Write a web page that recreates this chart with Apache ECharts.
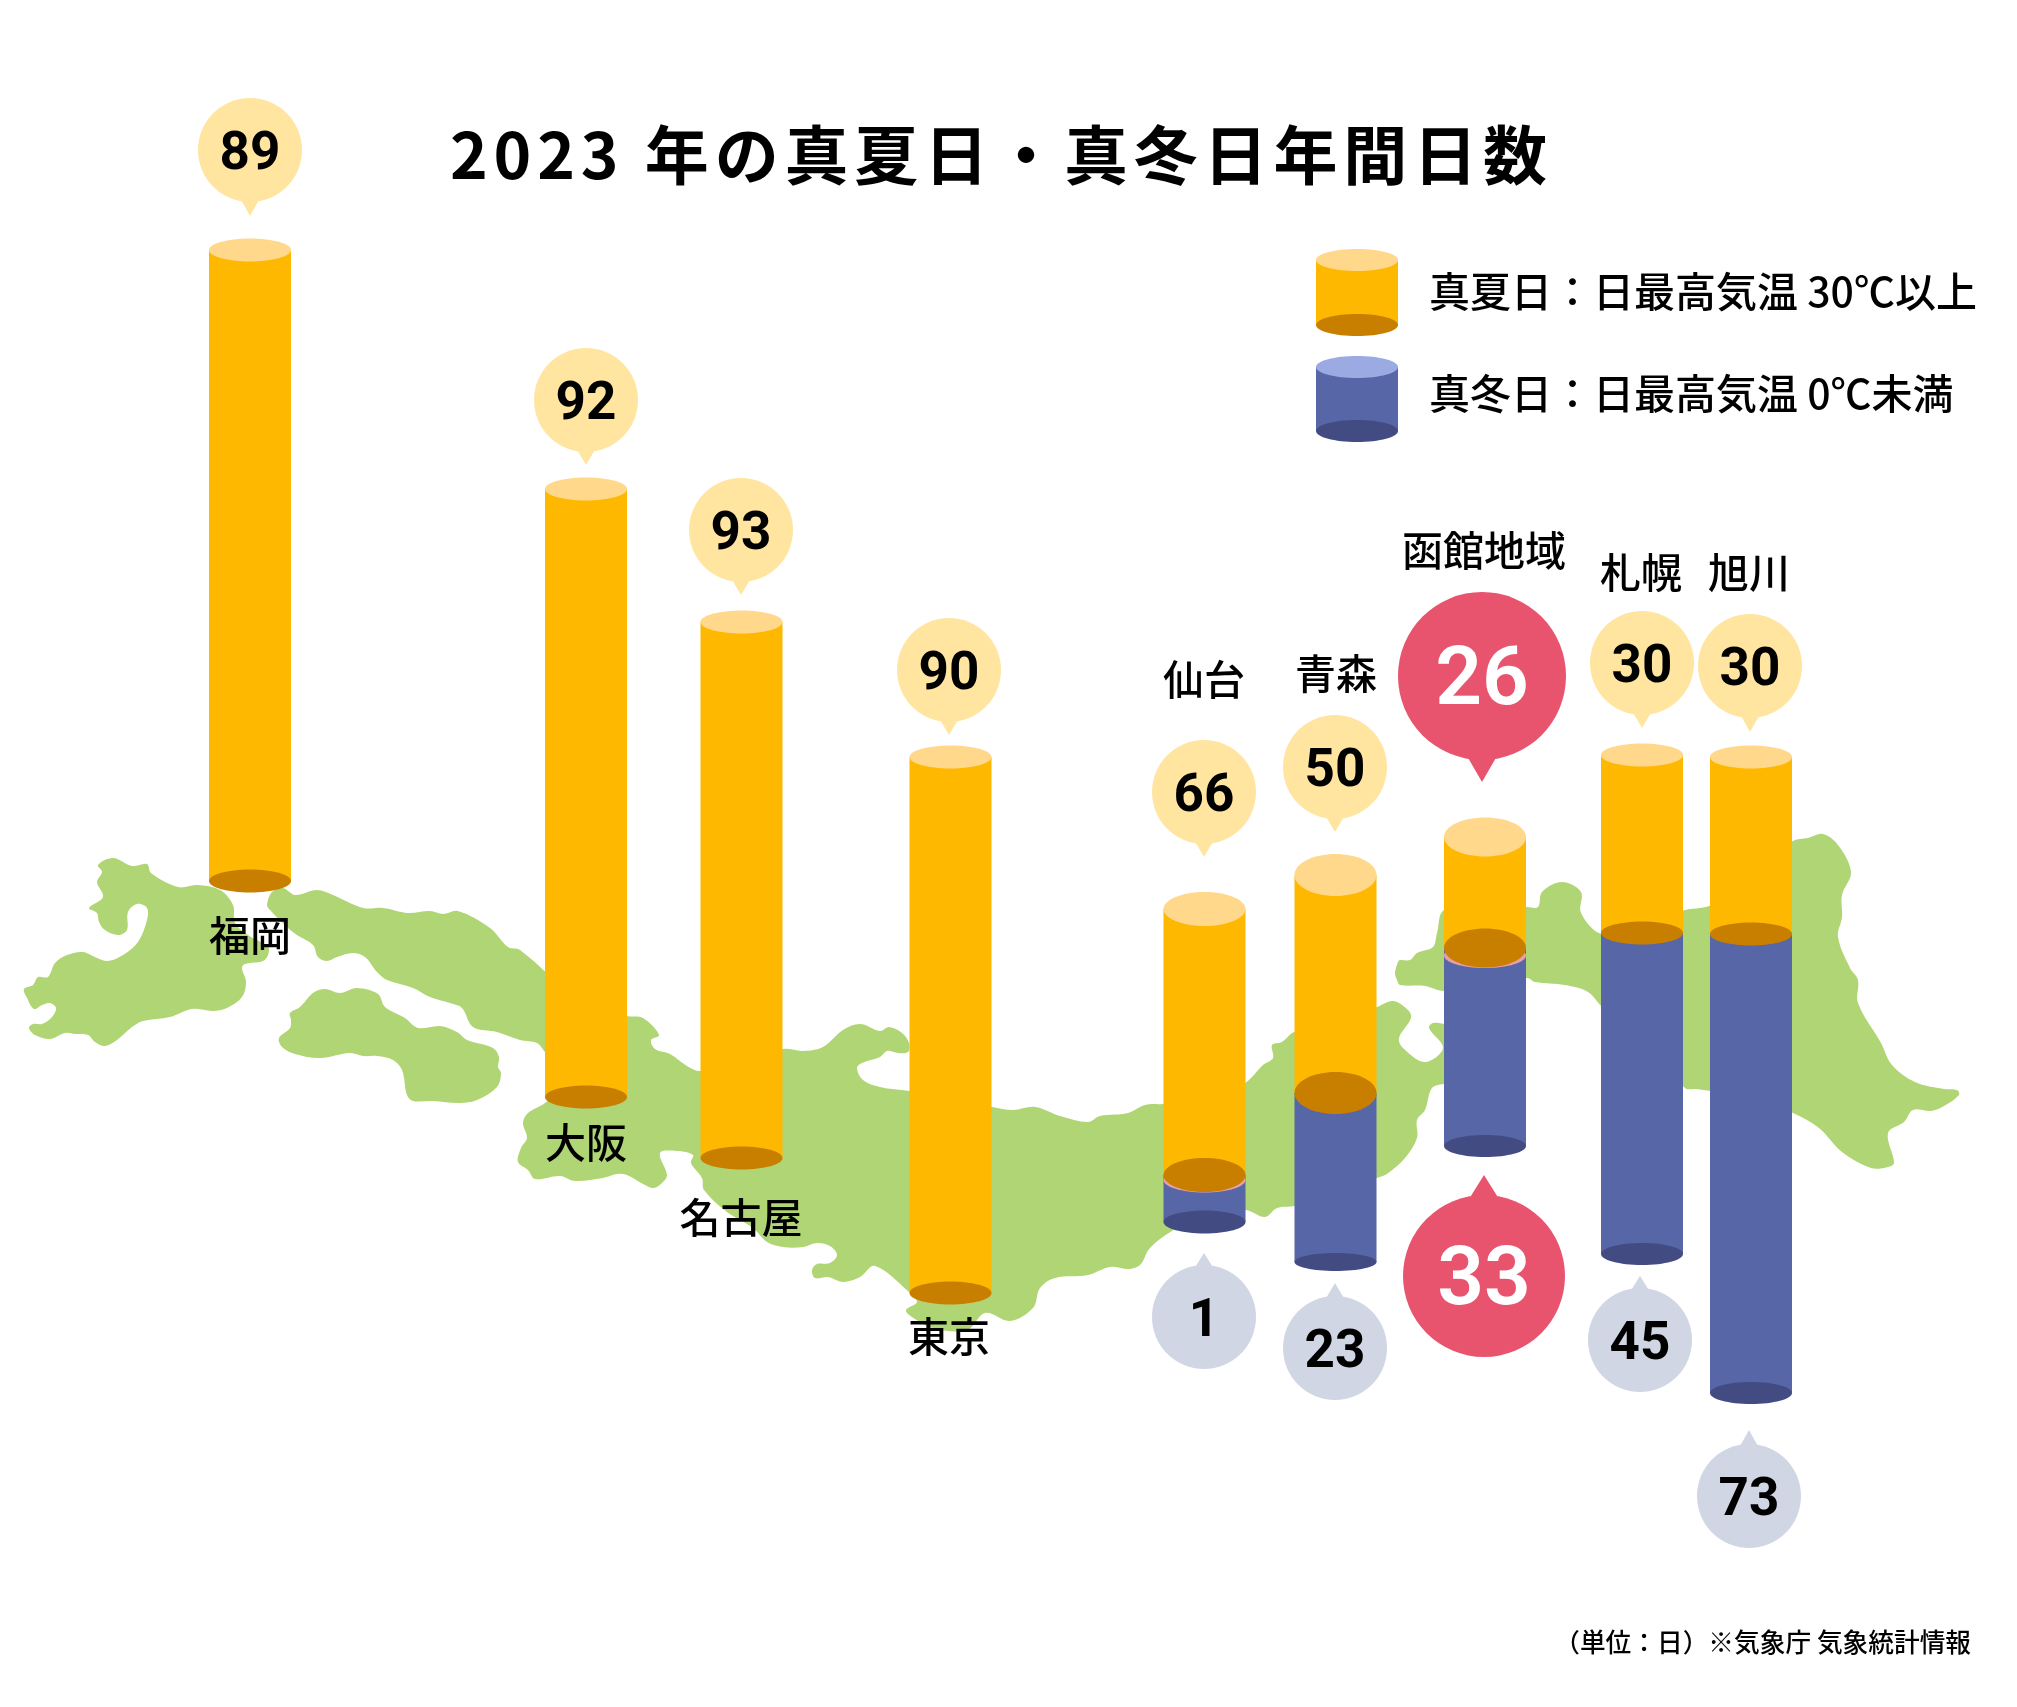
<!DOCTYPE html>
<html><head><meta charset="utf-8">
<style>html,body{margin:0;padding:0;background:#fff}#c{width:2017px;height:1707px}</style>
<script src="https://cdn.jsdelivr.net/npm/echarts@6/dist/echarts.min.js"></script>
</head><body><div id="c"></div>
<script>
const titleText = '2023 年の真夏日・真冬日年間日数';
const sourceText = '（単位：日）※気象庁 気象統計情報';
const legendLabels = ['真夏日：日最高気温 30℃以上', '真冬日：日最高気温 0℃未満'];
const cities = ['福岡','大阪','名古屋','東京','仙台','青森','函館地域','札幌','旭川'];
const summerDays = [89,92,93,90,66,50,26,30,30];
const winterDays = [0,0,0,0,1,23,33,45,73];
// bar ends (illustrative heights, in picture units)
const barTop    = [250,489,622,757,909,875,837,755,757];
const barSplit  = [881,1097,1158,1293,1175,1093,948,933,934];
const barBottom = [881,1097,1158,1293,1222,1262,1146,1254,1393];

const barX   = [250,586,741.5,950.5,1204.5,1335.5,1485,1642,1751];
const topRy  = [11.5,11.5,11.5,11.5,17,21,19.5,11.5,11.5];
const splitRy= [11.5,11.5,11.5,11.5,17,21,19.5,11.5,11.5];
const botRy  = [11.5,11.5,11.5,11.5,11.5,9,11,11,11];
const labelPos = [[250,935],[586,1142],[741,1217],[949,1336],[1204,679],[1336,673],[1484,550],[1641,572],[1749,572]];
const sumBubble = [[250,150,52,216],[586,400,52,465],[741,530,52,595],[949,670,52,735],[1204,792,52,857],[1335,767,52,832],[1482,676,84,782],[1642,663,52,728],[1750,666,52,732]];
const winBubble = [null,null,null,null,[1204,1317,52,1253],[1335,1348,52,1283],[1484,1276,81,1175],[1640,1340,52,1276],[1749,1496,52,1430]];
const highlightCity = 6;

const mapParts = [
 [[98,865],[113,858],[132,866],[147,864],[151,873],[178,887],[197,885],[220,890],[233,905],[235,923],[248,935],[268,947],[268,955],[263,961],[245,964],[242,968],[246,982],[242,997],[227,1008],[213,1011],[192,1009],[170,1017],[143,1021],[132,1027],[117,1040],[105,1046],[95,1042],[88,1035],[75,1034],[65,1033],[50,1039],[35,1035],[29,1028],[33,1024],[42,1024],[52,1017],[56,1008],[50,1003],[42,1005],[34,1009],[27,998],[24,989],[33,985],[38,977],[48,977],[55,963],[67,955],[83,952],[97,958],[108,961],[123,955],[138,942],[147,920],[147,908],[137,904],[128,912],[127,930],[118,935],[105,930],[99,922],[97,913],[89,908],[103,897],[97,882],[102,872]],
 [[290,1013],[300,1007],[313,993],[325,989],[340,993],[357,988],[378,994],[385,1007],[405,1018],[418,1028],[440,1026],[457,1032],[467,1040],[493,1048],[499,1057],[498,1067],[501,1073],[497,1087],[477,1100],[460,1103],[433,1101],[413,1101],[407,1095],[402,1070],[393,1060],[377,1056],[363,1056],[350,1053],[320,1058],[295,1054],[282,1047],[279,1038],[290,1028],[291,1020]],
 [[272,892],[283,888],[295,895],[317,890],[333,895],[363,908],[383,908],[408,913],[430,911],[443,914],[458,911],[490,928],[508,947],[520,950],[580,1000],[627,1016],[643,1018],[659,1035],[651,1040],[655,1049],[670,1054],[687,1066],[700,1071],[740,1060],[783,1049],[803,1051],[823,1047],[843,1030],[860,1024],[880,1031],[889,1027],[902,1033],[909,1043],[908,1052],[898,1053],[887,1051],[880,1057],[862,1063],[857,1068],[863,1080],[880,1087],[909,1091],[950,1098],[992,1107],[1013,1110],[1035,1107],[1060,1116],[1088,1122],[1100,1116],[1128,1113],[1145,1105],[1163,1104],[1205,1100],[1245,1083],[1263,1065],[1273,1058],[1272,1045],[1282,1042],[1294,1032],[1335,1020],[1377,1007],[1393,1001],[1408,1010],[1411,1018],[1399,1038],[1403,1048],[1425,1062],[1443,1048],[1429,1028],[1433,1023],[1444,1024],[1465,1030],[1465,1080],[1444,1084],[1432,1088],[1425,1110],[1417,1120],[1417,1138],[1405,1158],[1387,1174],[1377,1178],[1335,1195],[1294,1206],[1277,1208],[1265,1217],[1245,1210],[1205,1215],[1172,1231],[1150,1248],[1140,1265],[1128,1269],[1110,1267],[1088,1275],[1055,1278],[1040,1288],[1033,1308],[1010,1321],[985,1313],[967,1330],[933,1328],[912,1317],[906,1310],[917,1302],[909,1292],[875,1266],[860,1277],[843,1282],[828,1277],[815,1278],[812,1270],[817,1264],[830,1263],[837,1255],[830,1246],[817,1243],[803,1247],[783,1247],[767,1242],[753,1228],[727,1212],[704,1190],[702,1178],[691,1163],[693,1155],[677,1151],[660,1153],[667,1175],[663,1182],[654,1188],[643,1184],[627,1175],[617,1174],[603,1178],[575,1181],[560,1176],[535,1179],[528,1170],[518,1162],[521,1148],[527,1138],[523,1123],[528,1113],[545,1103],[570,1080],[545,1052],[537,1043],[520,1040],[497,1032],[473,1027],[462,1008],[450,1003],[430,997],[413,988],[387,980],[377,972],[365,957],[353,953],[337,957],[327,961],[318,957],[313,945],[297,935],[287,927],[270,910],[267,905]],
 [[1400,960],[1410,960],[1417,953],[1433,947],[1437,933],[1444,910],[1485,905],[1527,907],[1538,907],[1542,892],[1562,882],[1581,892],[1581,913],[1602,934],[1640,925],[1685,910],[1700,908],[1711,905],[1750,870],[1793,841],[1808,838],[1823,834],[1838,845],[1851,872],[1842,895],[1842,917],[1838,937],[1850,968],[1858,980],[1858,1003],[1881,1043],[1892,1065],[1915,1082],[1944,1089],[1957,1090],[1959,1095],[1944,1106],[1931,1111],[1913,1110],[1904,1122],[1888,1133],[1894,1163],[1888,1167],[1871,1168],[1842,1152],[1819,1128],[1793,1113],[1750,1095],[1711,1091],[1696,1089],[1685,1088],[1640,1040],[1602,1007],[1588,992],[1565,985],[1535,982],[1527,978],[1485,985],[1444,991],[1425,986],[1400,985],[1397,980],[1395,973],[1398,962]]
];

const C = {orange:'#FFB800',orangeTop:'#FFD88B',orangeBot:'#C87F00',blue:'#5766A6',blueBot:'#434C82',blueTop:'#9BAAE3',pink:'#E6A0A6',
  yellow:'#FFE5A0',gray:'#D0D6E3',red:'#E8546E',green:'#B0D574',ink:'#000'};
const F = '"Noto Sans CJK JP","Noto Sans",sans-serif';
const DF = 'Roboto,"Noto Sans",sans-serif';
const BW = 82;

// letter-spaced title: canvas text keeps its full string
const ft = CanvasRenderingContext2D.prototype.fillText;
CanvasRenderingContext2D.prototype.fillText = function(t,x,y,m){
  if(t===titleText){ this.letterSpacing='5.85px'; }
  m===undefined ? ft.call(this,t,x,y) : ft.call(this,t,x,y,m);
  if(t===titleText){ this.letterSpacing='0px'; }
};

function cyl(api,x,y0,y1,ry0,ry1,bodyCol,topCol,botCol){
  const a=api.coord([x-BW/2,y0]), b=api.coord([x+BW/2,y1]);
  const kids=[{type:'rect',shape:{x:a[0],y:a[1],width:b[0]-a[0],height:b[1]-a[1]},style:{fill:bodyCol}}];
  kids.push({type:'ellipse',shape:{cx:(a[0]+b[0])/2,cy:b[1],rx:BW/2,ry:ry1},style:{fill:botCol}});
  if(topCol) kids.push({type:'ellipse',shape:{cx:(a[0]+b[0])/2,cy:a[1],rx:BW/2,ry:ry0},style:{fill:topCol}});
  return {type:'group',children:kids};
}
function bubble(api,row,val,fill,col,font,dy){
  const c=api.coord([row[0],row[1]]), r=row[2], tip=api.coord([row[0],row[3]])[1];
  const dir=tip>c[1]?1:-1, hw=r>60?15:10, base=c[1]+dir*(r-4);
  return {type:'group',children:[
    {type:'polygon',shape:{points:[[c[0]-hw,base],[c[0]+hw,base],[c[0],tip]]},style:{fill}},
    {type:'circle',shape:{cx:c[0],cy:c[1],r},style:{fill}},
    {type:'text',style:{text:String(val),x:c[0],y:c[1]+dy,align:'center',verticalAlign:'middle',fill:col,font}}
  ]};
}
const idx=cities.map((_,i)=>i);
const axisOff={show:false};
const legendCyl=[[1357,260,325,C.orange,C.orangeTop,C.orangeBot],[1357,367,431,C.blue,C.blueTop,C.blueBot]];
const texts=[
 {t:titleText,x:450,y:155,a:'left',f:'700 64px '+F},
 {t:legendLabels[0],x:1429,y:291,a:'left',f:'500 41px '+F},
 {t:legendLabels[1],x:1429,y:393,a:'left',f:'500 41px '+F},
 {t:sourceText,x:1971,y:1642,a:'right',f:'500 25.7px '+F}
];
const chart=echarts.init(document.getElementById('c'),null,{renderer:'canvas',width:2017,height:1707});
chart.setOption({
  animation:false,backgroundColor:'#fff',
  grid:{left:0,right:0,top:0,bottom:0},
  xAxis:{type:'value',min:0,max:2017,...axisOff},
  yAxis:{type:'value',min:0,max:1707,inverse:true,...axisOff},
  series:[
   {type:'custom',name:'地図',coordinateSystem:'cartesian2d',silent:true,z:1,data:mapParts.map((_,i)=>[i]),
    renderItem:(p,api)=>({type:'polygon',shape:{points:mapParts[api.value(0)].map(q=>api.coord(q)),smooth:0.35},style:{fill:C.green}})},
   {type:'custom',name:'真冬日',z:2,data:idx.filter(i=>winterDays[i]>0).map(i=>[i,winterDays[i]]),
    renderItem:(p,api)=>{const i=api.value(0);
      const g=cyl(api,barX[i],barSplit[i],barBottom[i],splitRy[i],botRy[i],C.blue,null,C.blueBot);
      const c=api.coord([barX[i],barSplit[i]]);
      const pinkRim=splitRy[i]>15&&splitRy[i]<21;
      if(pinkRim){const off=i===highlightCity?7.5:5;
        g.children.push({type:'ellipse',shape:{cx:c[0],cy:c[1]+off,rx:BW/2,ry:splitRy[i]-off+0.5},style:{fill:C.pink}});}
      return g;}},
   {type:'custom',name:'真夏日',z:3,data:idx.map(i=>[i,summerDays[i]]),
    renderItem:(p,api)=>{const i=api.value(0);
      return cyl(api,barX[i],barTop[i],barSplit[i],topRy[i],splitRy[i],C.orange,C.orangeTop,C.orangeBot);}},
   {type:'custom',name:'凡例',z:3,data:legendCyl.map((_,i)=>[i]),
    renderItem:(p,api)=>{const l=legendCyl[api.value(0)];return cyl(api,l[0],l[1],l[2],11,11,l[3],l[4],l[5]);}},
   {type:'custom',name:'真夏日数',z:4,data:idx.map(i=>[i,summerDays[i]]),
    renderItem:(p,api)=>{const i=api.value(0),hl=i===highlightCity;
      return bubble(api,sumBubble[i],summerDays[i],hl?C.red:C.yellow,hl?'#fff':C.ink,hl?'600 82px '+DF:'700 53px '+DF,hl?7:6);}},
   {type:'custom',name:'真冬日数',z:4,data:idx.filter(i=>winterDays[i]>0).map(i=>[i,winterDays[i]]),
    renderItem:(p,api)=>{const i=api.value(0),hl=i===highlightCity;
      return bubble(api,winBubble[i],winterDays[i],hl?C.red:C.gray,hl?'#fff':C.ink,hl?'600 82px '+DF:'700 53px '+DF,hl?7:6);}},
   {type:'custom',name:'都市名',z:5,data:idx.map(i=>[i]),
    renderItem:(p,api)=>{const i=api.value(0),c=api.coord(labelPos[i]);
      return {type:'text',style:{text:cities[i],x:c[0],y:c[1],align:'center',verticalAlign:'middle',fill:C.ink,font:'500 41px '+F}};}},
   {type:'custom',name:'文字',z:5,data:texts.map((_,i)=>[i]),
    renderItem:(p,api)=>{const d=texts[api.value(0)],c=api.coord([d.x,d.y]);
      return {type:'text',style:{text:d.t,x:c[0],y:c[1],align:d.a,verticalAlign:'middle',fill:C.ink,font:d.f}};}}
  ]
});
</script></body></html>
